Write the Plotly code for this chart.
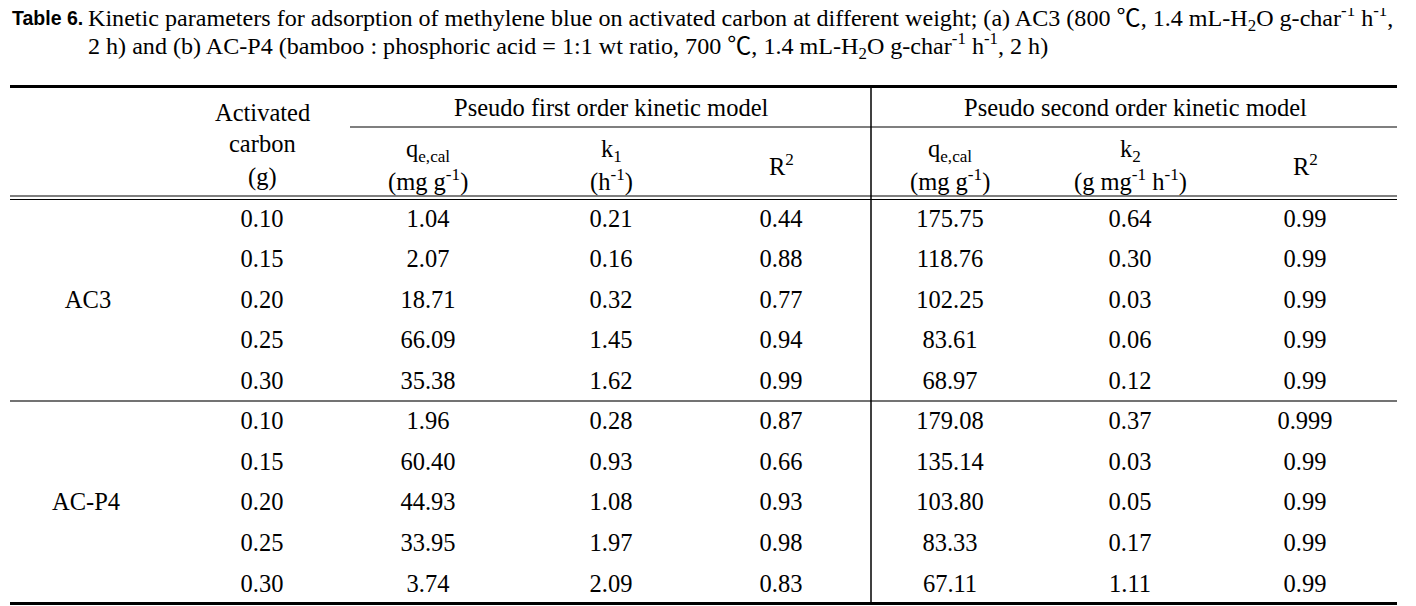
import plotly.graph_objects as go

# ---------------- data ----------------
groups = ["AC3", "AC-P4"]
weights = ["0.10", "0.15", "0.20", "0.25", "0.30"]
pfo_qe = ["1.04", "2.07", "18.71", "66.09", "35.38", "1.96", "60.40", "44.93", "33.95", "3.74"]
pfo_k1 = ["0.21", "0.16", "0.32", "1.45", "1.62", "0.28", "0.93", "1.08", "1.97", "2.09"]
pfo_r2 = ["0.44", "0.88", "0.77", "0.94", "0.99", "0.87", "0.66", "0.93", "0.98", "0.83"]
pso_qe = ["175.75", "118.76", "102.25", "83.61", "68.97", "179.08", "135.14", "103.80", "83.33", "67.11"]
pso_k2 = ["0.64", "0.30", "0.03", "0.06", "0.12", "0.37", "0.03", "0.05", "0.17", "1.11"]
pso_r2 = ["0.99", "0.99", "0.99", "0.99", "0.99", "0.999", "0.99", "0.99", "0.99", "0.99"]

title_bold = "Table 6."
title_l1 = ("Kinetic parameters for adsorption of methylene blue on activated carbon at different weight; "
            "(a) AC3 (800 ℃, 1.4 mL-H<sub>2</sub>O g-char<sup>-1</sup> h<sup>-1</sup>,")
title_l2 = ("2 h) and (b) AC-P4 (bamboo : phosphoric acid = 1:1 wt ratio, 700 ℃, "
            "1.4 mL-H<sub>2</sub>O g-char<sup>-1</sup> h<sup>-1</sup>, 2 h)")

# ---------------- layout constants ----------------
W, H = 1416, 606
OFF = 8  # default page body margin; axes are offset so data units equal page pixels
SERIF = "Liberation Serif, Times New Roman, Noto Sans CJK SC, serif"
FS = 24.5
FS_T = 24.1
col_w = 262
cols = [428, 611, 781, 950, 1130, 1305]
row0, dy = 220.5, 40.55
left, right = 10, 1397
vline_x = 871

fig = go.Figure()

# body values
nrows = len(pfo_qe)
row_y = [row0 + i * dy for i in range(nrows)]
all_weights = weights * len(groups)
for cx, vals in zip([col_w] + cols, [all_weights, pfo_qe, pfo_k1, pfo_r2, pso_qe, pso_k2, pso_r2]):
    fig.add_trace(go.Scatter(
        x=[cx] * nrows, y=row_y, text=vals, mode="text",
        textposition="middle center",
        textfont=dict(family=SERIF, size=FS, color="black"),
        hoverinfo="skip", showlegend=False))

# group labels
grp_x = [88, 86]
grp_y = [row_y[2], row_y[7]]
fig.add_trace(go.Scatter(
    x=grp_x, y=grp_y, text=groups, mode="text", textposition="middle center",
    textfont=dict(family=SERIF, size=FS, color="black"),
    hoverinfo="skip", showlegend=False))

def ann(x, y, text, size=FS, family=SERIF, xanchor="center"):
    fig.add_annotation(x=x, y=y, xref="x", yref="y", text=text, showarrow=False,
                       xanchor=xanchor, yanchor="middle",
                       font=dict(family=family, size=size, color="black"))

# header
ann(col_w, 112, "Activated")
ann(col_w, 143, "carbon")
ann(col_w, 177, "(g)")
ann(611, 107, "Pseudo first order kinetic model")
ann(1135, 107, "Pseudo second order kinetic model")
ann(cols[0], 150, "q<sub>e,cal</sub>")
ann(cols[0], 180, "(mg g<sup>-1</sup>)")
ann(cols[1], 150, "k<sub>1</sub>")
ann(cols[1], 180, "(h<sup>-1</sup>)")
ann(cols[2], 165, "R<sup>2</sup>")
ann(cols[3], 150, "q<sub>e,cal</sub>")
ann(cols[3], 180, "(mg g<sup>-1</sup>)")
ann(cols[4], 150, "k<sub>2</sub>")
ann(cols[4], 180, "(g mg<sup>-1</sup> h<sup>-1</sup>)")
ann(cols[5], 165, "R<sup>2</sup>")

# title
ann(10, 18, "<b>" + title_bold + "</b>", size=19.5, family="Liberation Sans, Arial, sans-serif", xanchor="left")
ann(86, 18, title_l1, size=FS_T, xanchor="left")
ann(86, 46, title_l2, size=FS_T, xanchor="left")

# rules
def hline(y, x0, x1, w, color="black"):
    fig.add_shape(type="line", xref="x", yref="y", x0=x0, x1=x1, y0=y, y1=y,
                  line=dict(color=color, width=w))

hline(86.5, left, right, 3)
hline(127, 350, right, 1.5, "#555555")
hline(196, left, right, 1.2)
hline(199.5, left, right, 1.2)
hline(401, left, right, 1.5, "#444444")
hline(603.5, left, right, 3)
fig.add_shape(type="line", xref="x", yref="y", x0=vline_x, x1=vline_x, y0=86.5, y1=603.5,
              line=dict(color="black", width=1.5))

fig.update_xaxes(range=[OFF, W], visible=False, fixedrange=True)
fig.update_yaxes(range=[H, OFF], visible=False, fixedrange=True)
fig.update_layout(width=W - OFF, height=H - OFF, margin=dict(l=0, r=0, t=0, b=0),
                  paper_bgcolor="white", plot_bgcolor="white", showlegend=False)

fig.write_html("out.html")
